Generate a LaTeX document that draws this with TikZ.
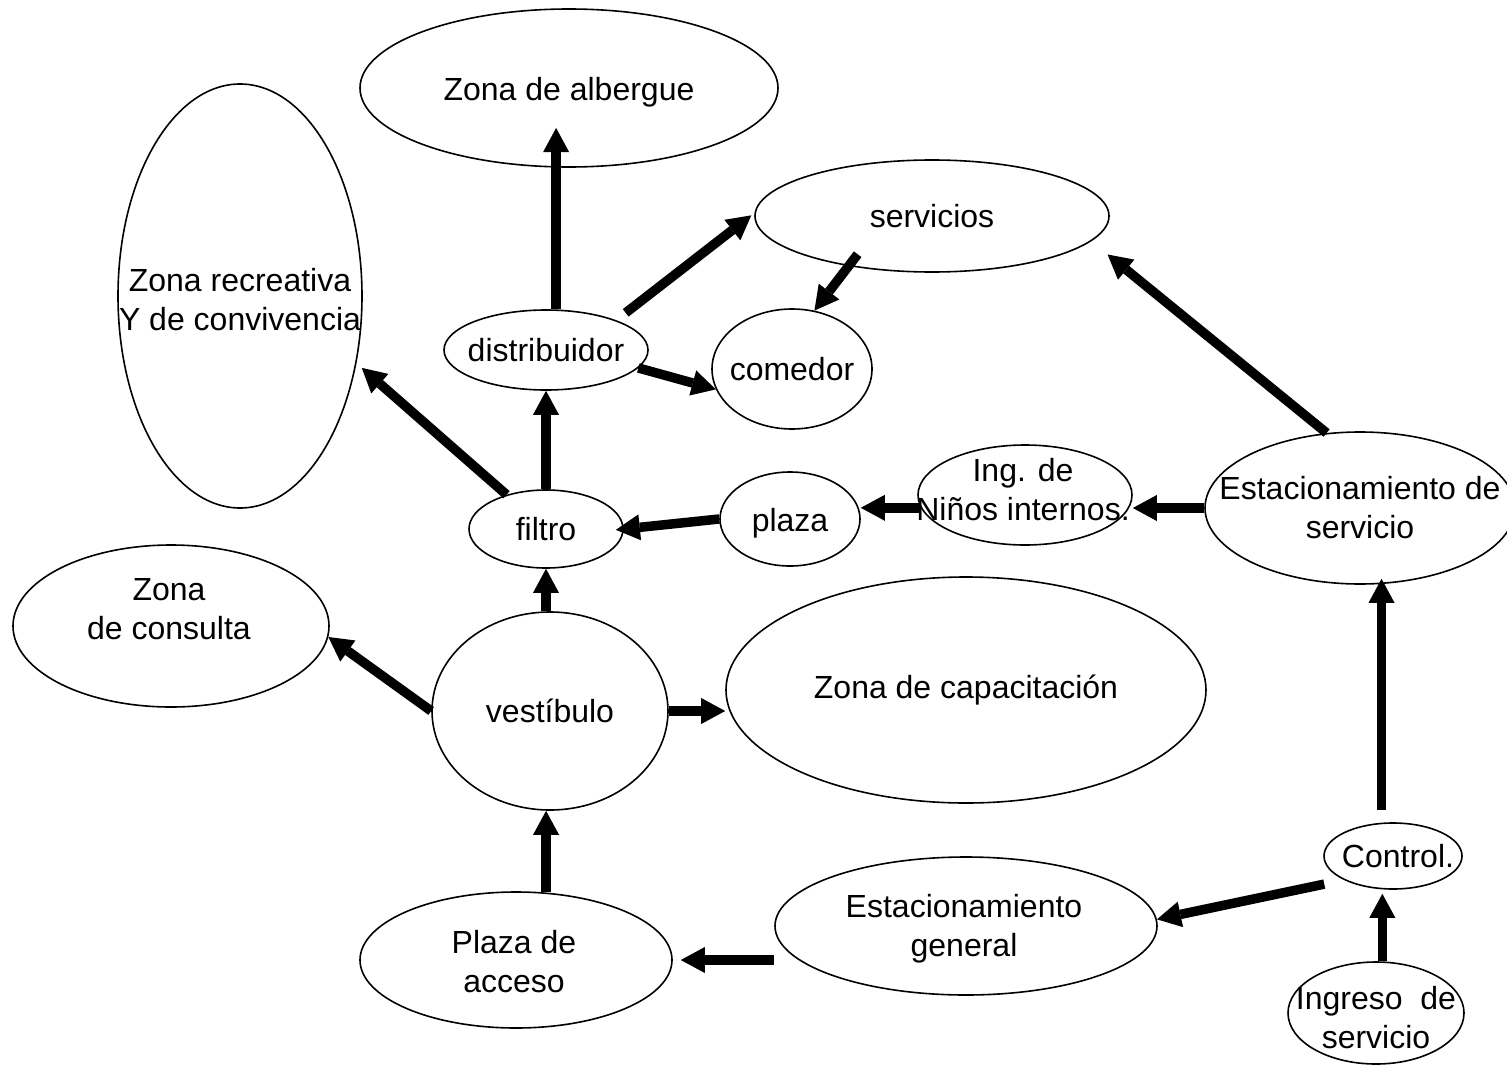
\documentclass[tikz,border=0pt]{standalone}
\usepackage{fontspec}
\setmainfont{Liberation Sans}
\usepackage{tikz}
\usetikzlibrary{arrows.meta, shapes.geometric}

\begin{document}
\begin{tikzpicture}[
  x=1pt, y=-1pt,
  zone/.style 2 args = {draw, ellipse, line width=1.6pt, inner sep=0pt,
                        minimum width=#1pt, minimum height=#2pt},
  txt/.style  = {align=center, inner sep=0pt, font=\fontsize{32}{39}\selectfont},
  flow/.style = {-{Triangle[length=24pt, width=26pt, line width=0pt]}, line width=9.5pt},
]
\useasboundingbox (0,0) rectangle (1507,1065);

% ── Zones ────────────────────────────────────────────────────────────────────
\node[zone={418}{158}] (alb)  at (569,88)    {};
\node[zone={244}{424}] (rec)  at (240,296)   {};
\node[zone={354}{112}] (serv) at (932,216)   {};
\node[zone={204}{80}]  (dist) at (546,350)   {};
\node[zone={160}{120}] (com)  at (792,369)   {};
\node[zone={154}{78}]  (fil)  at (546,529)   {};
\node[zone={140}{94}]  (pla)  at (790,519)   {};
\node[zone={214}{100}] (ing)  at (1025,495)  {};
\node[zone={310}{152}] (esv)  at (1360,508)  {};
\node[zone={316}{162}] (con)  at (171,626)   {};
\node[zone={236}{198}] (ves)  at (550,711)   {};
\node[zone={480}{226}] (cap)  at (966,690)   {};
\node[zone={138}{66}]  (ctl)  at (1393,856)  {};
\node[zone={382}{138}] (esg)  at (966,926)   {};
\node[zone={312}{136}] (pac)  at (516,960)   {};
\node[zone={176}{102}] (ingr) at (1376,1013) {};

% ── Texts ────────────────────────────────────────────────────────────────────
\node[txt] (albT)  at (569,92)     {Zona de albergue};
\node[txt] (recT)  at (240,300)    {Zona recreativa\\Y de convivencia};
\node[txt] (servT) at (serv)       {servicios};
\node[txt] (distT) at (dist)       {distribuidor};
\node[txt] (comT)  at (com)        {comedor};
\node[txt] (filT)  at (fil)        {filtro};
\node[txt] (plaT)  at (790,523)    {plaza};
\node[txt] (ingT)  at (1023,490)   {Ing. de\\Niños internos.};
\node[txt] (esvT)  at (esv)        {Estacionamiento de\\servicio};
\node[txt] (conT)  at (169,609)    {Zona\\de consulta};
\node[txt] (vesT)  at (ves)        {vestíbulo};
\node[txt] (capT)  at (cap)        {Zona de capacitación};
\node[txt] (ctlT)  at (1398,856)   {Control.};
\node[txt] (esgT)  at (964,929)    {Estacionamiento\\general};
\node[txt] (pacT)  at (514,962)    {Plaza de\\acceso};
\node[txt] (ingrT) at (1376,1018)  {Ingreso\ \ de\\servicio};

% ── Circulation ──────────────────────────────────────────────────────────────
\draw[flow, shorten >=40pt]               (dist.76)  -- (dist.76 |- alb.center);
\draw[flow, shorten <=12pt, shorten >=4pt] (dist.23)  -- (serv.179);
\draw[flow, shorten <=-15pt]              (serv.211) -- (com.69);
\draw[flow]                               (dist.349) -- (com.195);
\draw[flow, shorten >=7pt]                (fil.139)  -- (rec.330);
\draw[flow]                               (fil.north) -- (dist.south);
\draw[flow, shorten >=-8pt]               (pla.west) -- (fil.east);
\draw[flow]                               (ing.187)  -- (ing.187 -| pla.east);
\draw[flow]                               (esv.west) -- (esv.west -| ing.east);
\draw[flow, shorten >=21pt]               (esv.114)  -- (serv.351);
\draw[flow]                               (fil.south |- ves.north) -- (fil.south);
\draw[flow]                               (ves.west) -- (con.356);
\draw[flow]                               (ves.east) -- (ves.east -| cap.west);
\draw[flow]                               (pac.66)   -- (pac.66 |- ves.south);
\draw[flow, shorten >=8pt]                (pac.east -| esg.west) -- (pac.east);
\draw[flow, shorten <=20pt]               (ctl.206)  -- (esg.2);
\draw[flow, shorten <=13pt, shorten >=-6pt] (ctl.109) -- (ctl.109 |- esv.south);
\draw[flow, shorten >=4pt]                (ingr.83)  -- (ingr.83 |- ctl.south);
\end{tikzpicture}
\end{document}
